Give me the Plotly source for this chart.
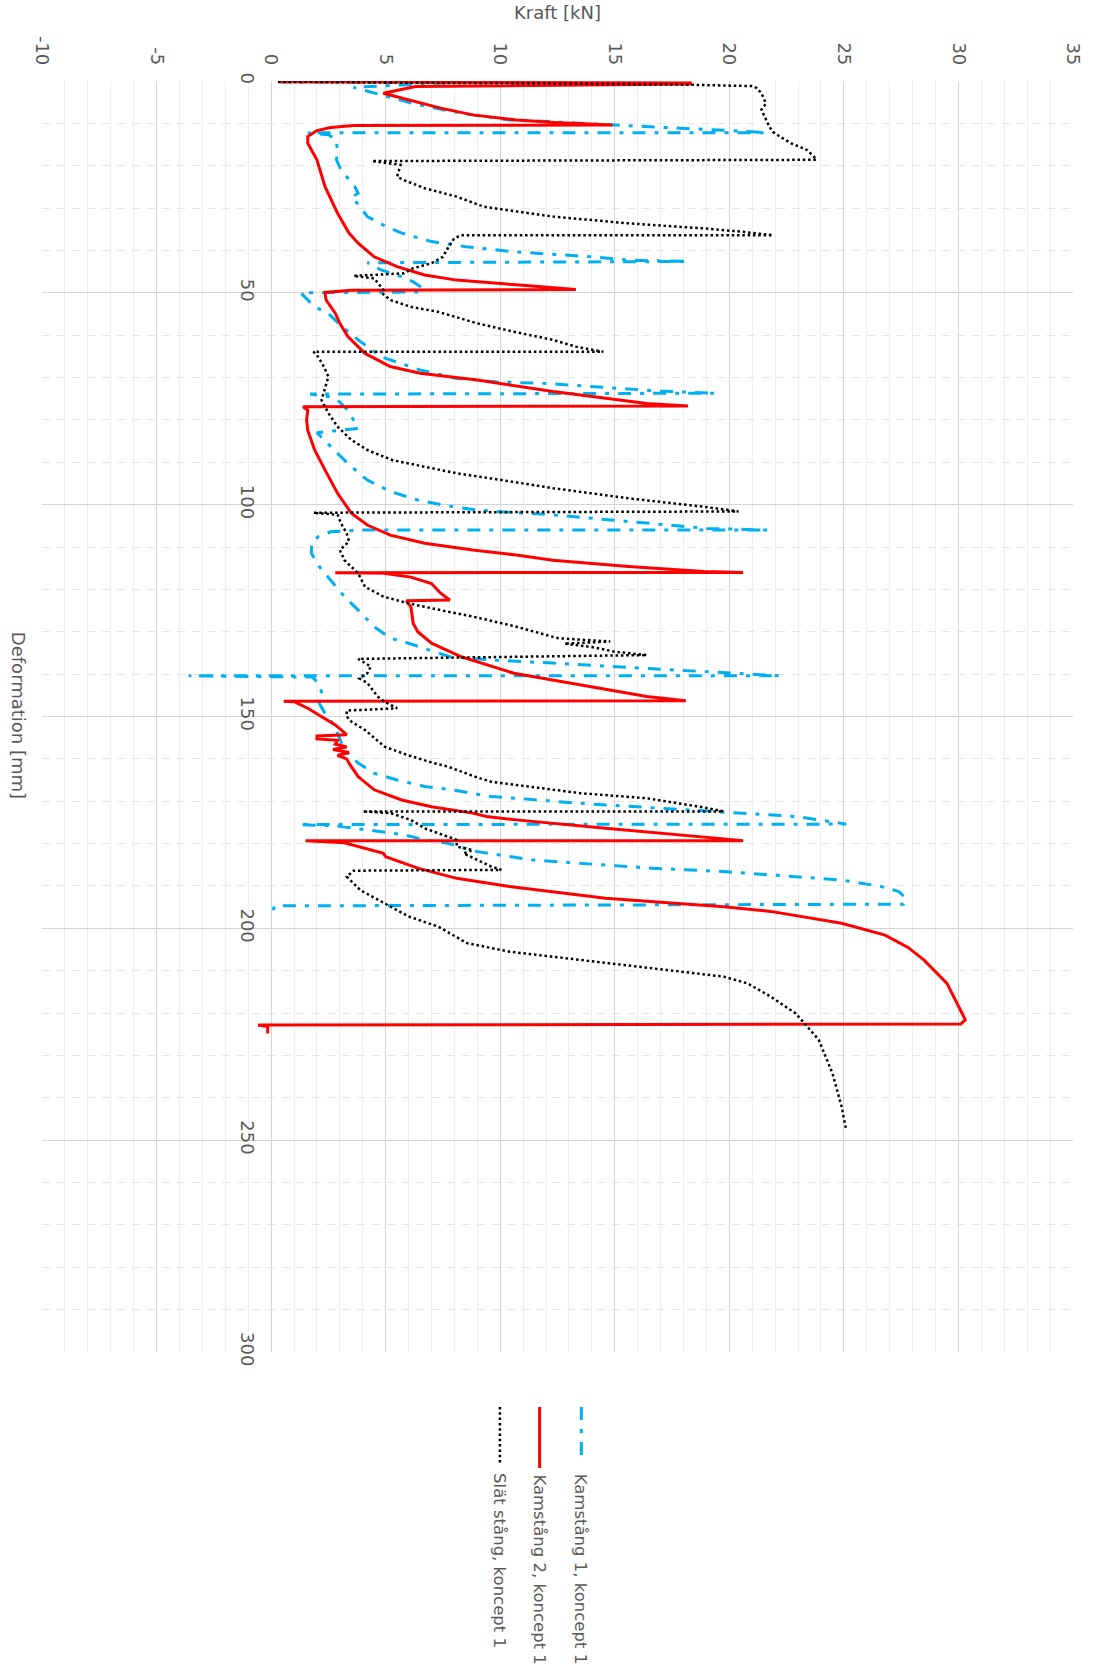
import plotly.graph_objects as go

# Kamstång 1, koncept 1 (dash-dot blue): deformation [mm] / force [kN]
k1_def = [0.2, 0.4, 1.5, 2.9, 3.3, 5.3, 6.8, 8.0, 9.2, 9.6, 10.4, 11.0, 11.5, 11.9, 12.2,
          12.2, 12.7, 13.9, 17.1, 18.6, 21.0, 24.9, 26.5, 27.5, 28.1, 32.0, 34.0, 35.9, 37.9, 39.1, 40.3, 41.5, 42.3, 42.6,
          42.9, 44.6, 45.8, 47.4, 48.5, 49.8,
          50.0, 50.3, 53.3, 54.9, 58.0, 61.1, 65.1, 68.2, 70.2, 71.0, 71.4, 72.0, 72.6, 73.2, 73.7,
          73.9, 74.5, 75.3, 77.7, 82.0, 83.0, 84.7, 87.9, 91.0, 94.2, 96.9, 98.9, 100.1, 101.3, 102.4, 103.2, 104.0, 104.8, 105.6, 106.0,
          106.0, 106.4, 107.6, 109.1, 111.5, 114.6, 117.8, 121.7, 124.9, 128.8, 131.5, 132.7, 135.9, 136.7, 137.4, 138.2, 139.0, 139.4, 140.0, 140.4,
          140.4, 140.7, 141.8, 144.1, 146.9, 149.2, 152.4, 154.0, 157.9, 161.0, 163.4, 165.0, 166.5, 167.3, 168.9, 169.3, 170.5, 171.3, 172.1, 172.8, 173.6, 174.4, 175.4,
          175.5, 175.8, 177.9, 179.0, 179.9, 181.9, 183.9, 184.6, 185.8, 186.6, 187.4, 188.6, 190.1, 191.3, 192.9, 194.3,
          194.7, 196.4]
k1_force = [0.3, 7.8, 3.6, 4.6, 4.9, 6.2, 7.5, 8.8, 10.4, 12.3, 15.0, 17.5, 19.5, 20.8, 21.6,
            1.6, 2.5, 2.85, 2.9, 2.85, 3.05, 3.65, 3.8, 3.5, 3.65, 4.2, 4.9, 5.7, 7.0, 8.5, 10.6, 14.0, 15.6, 18.2,
            4.2, 4.8, 5.5, 6.2, 6.5, 6.6,
            1.3, 1.35, 1.9, 2.5, 3.1, 3.8, 4.8, 6.5, 8.1, 9.8, 12.0, 13.6, 15.0, 17.0, 19.4,
            1.7, 2.5, 2.9, 3.35, 3.8, 2.0, 2.3, 2.9, 3.5, 4.2, 5.2, 6.4, 7.5, 9.0, 12.3, 14.0, 15.7, 17.3, 19.0, 21.7,
            3.8, 2.6, 2.05, 1.76, 1.76, 2.1, 2.6, 3.2, 3.8, 4.5, 5.2, 6.0, 7.8, 9.8, 12.3, 14.8, 17.3, 18.9, 20.5, 22.2,
            -3.6, 1.8, 2.0, 2.2, 2.1, 2.35, 2.8, 2.9, 3.2, 3.8, 4.5, 5.5, 6.7, 7.9, 9.6, 10.7, 13.5, 16.0, 18.3, 20.8, 22.9, 23.9, 25.1,
            1.2, 2.8, 5.8, 6.6, 7.7, 9.0, 11.45, 13.5, 16.6, 19.75, 21.8, 24.9, 26.6, 27.4, 27.7, 27.6,
            0.15, 0.05]

# Kamstång 2, koncept 1 (solid red)
k2_def = [0.2, 0.5, 0.7, 1.3, 2.9, 4.5, 6.4, 8.0, 9.2, 9.8, 10.2, 10.4,
          10.5, 11.0, 11.7, 13.1, 14.7, 18.6, 24.9, 31.2, 35.9, 38.3, 41.5, 43.8, 45.8, 47.0, 48.1, 48.8, 49.2,
          49.4, 49.9, 51.7, 54.8, 57.2, 60.3, 64.3, 67.4, 69.0, 70.6, 73.3, 76.1, 76.7,
          76.9, 77.7, 80.0, 82.5, 84.0, 87.1, 91.8, 97.3, 102.0, 104.8, 107.2, 109.1, 110.7, 111.9, 113.1, 114.6, 115.8, 116.0,
          116.05, 116.2, 117.1, 118.6, 120.9, 122.5,
          122.7, 124.1, 128.0, 130.0, 132.7, 135.9, 139.8, 143.0, 145.3, 146.3,
          146.4, 146.5, 148.05, 150.0, 152.0, 154.3,
          154.6, 155.3, 155.6, 156.5, 157.2, 157.8, 158.5, 159.2, 160.0, 161.0, 164.2, 167.3, 169.7, 171.3, 172.8, 173.6, 174.4, 176.4, 178.3, 179.3,
          179.3, 179.8, 182.3, 183.1, 185.8, 187.0, 188.2, 190.1, 192.9, 194.9, 196.0, 198.8, 201.6, 204.5, 207.5, 213.0, 219.3, 221.6, 222.6,
          222.8, 223.2, 224.8]
k2_force = [0.3, 18.3, 18.3, 6.3, 4.9, 6.0, 7.4, 8.8, 10.7, 12.4, 14.0, 14.9,
            3.6, 2.6, 2.0, 1.6, 1.6, 2.0, 2.35, 2.9, 3.4, 3.8, 4.5, 5.5, 6.7, 8.1, 10.7, 12.2, 13.3,
            3.5, 2.35, 2.4, 2.8, 3.0, 3.35, 4.1, 5.2, 6.5, 9.0, 12.3, 16.4, 18.2,
            1.4, 1.6, 1.55, 1.6, 1.7, 1.9, 2.35, 2.9, 3.5, 4.2, 5.2, 6.7, 8.8, 10.7, 12.3, 15.6, 18.9, 20.6,
            2.8, 4.9, 6.1, 7.0, 7.4, 7.8,
            5.9, 6.1, 6.2, 6.4, 7.0, 8.3, 10.6, 13.9, 16.4, 18.1,
            0.55, 1.0, 1.6, 2.2, 2.8, 3.3,
            2.0, 2.0, 2.9, 2.8, 3.3, 2.7, 3.4, 2.9, 3.3, 3.4, 3.8, 4.5, 5.7, 7.0, 8.8, 9.4, 10.7, 14.6, 18.7, 20.6,
            1.5, 3.2, 4.9, 5.0, 6.4, 7.3, 8.1, 10.4, 14.6, 19.75, 21.8, 24.9, 26.8, 27.8, 28.5, 29.5, 30.1, 30.3, 30.1,
            -0.57, -0.15, -0.15]

# Slät stång, koncept 1 (dotted black)
sl_def = [0.2, 0.8, 1.2, 1.7, 2.9, 5.3, 6.8, 9.2, 10.8, 12.0, 13.1, 14.7, 16.3, 17.9, 18.6,
          18.9, 19.4, 19.8, 22.6, 23.4, 25.3, 27.3, 29.7, 32.0, 33.6, 34.8, 35.6, 36.4,
          36.4, 37.1, 39.1, 41.5, 43.0, 44.2, 45.4,
          46.0, 46.6, 49.3, 50.1, 51.7, 53.3, 54.5, 57.2, 59.2, 61.1, 62.7, 63.9,
          63.9, 65.1, 67.4, 69.8, 72.9, 75.3, 78.4, 81.6, 84.7, 87.1, 89.5, 91.0, 92.6, 93.8, 96.1, 98.5, 100.5, 101.6,
          101.9, 102.4, 104.4, 106.8, 108.7, 110.7, 113.1, 116.2, 119.4, 121.7, 123.3, 124.9, 126.4, 128.8, 131.5, 132.3, 132.8, 133.6, 134.7, 135.5,
          136.4, 138.2, 139.8, 141.0, 142.1, 145.3, 146.5, 148.05,
          148.6, 150.0, 151.2, 153.2, 157.1, 159.1, 161.0, 161.8, 164.2, 165.4, 167.3, 168.1, 169.3, 171.3, 172.4,
          172.4, 172.8, 174.4, 176.4, 178.3, 179.1, 180.7, 181.5, 182.3, 185.4, 186.2,
          186.4, 187.8, 191.0, 194.1, 197.2, 199.6, 202.0, 203.5, 205.5, 207.5, 209.4, 211.4, 213.0, 216.1, 220.1, 226.3, 234.2, 242.1, 247.6]
sl_force = [0.3, 17.5, 21.0, 21.2, 21.4, 21.6, 21.4, 21.6, 21.75, 21.9, 22.2, 22.7, 23.4, 23.7, 23.8,
            4.4, 5.2, 5.65, 5.5, 5.8, 6.7, 8.1, 9.3, 12.3, 15.6, 18.9, 20.6, 21.9,
            8.3, 8.0, 7.75, 7.5, 7.0, 6.2, 5.8,
            3.6, 4.5, 4.9, 4.85, 5.2, 6.1, 7.3, 9.0, 10.6, 12.3, 13.3, 14.5,
            1.85, 2.05, 2.3, 2.5, 2.35, 2.2, 2.5, 2.9, 3.5, 4.2, 5.3, 6.7, 8.1, 9.6, 12.3, 15.6, 18.9, 20.4,
            1.85, 2.9, 3.05, 3.3, 3.4, 3.0, 3.2, 3.8, 4.1, 4.9, 6.0, 7.4, 8.8, 10.7, 12.5, 14.8, 12.8, 14.0, 15.0, 16.4,
            3.8, 4.35, 4.2, 3.85, 4.2, 4.65, 4.95, 5.5,
            3.3, 3.3, 3.5, 4.1, 4.95, 5.95, 7.1, 7.7, 8.9, 9.6, 12.3, 13.5, 16.4, 18.7, 19.75,
            4.0, 5.2, 6.1, 6.7, 7.7, 8.1, 8.1, 8.8, 8.4, 9.6, 10.05,
            3.6, 3.3, 3.9, 4.95, 6.0, 7.3, 8.1, 8.55, 10.4, 13.5, 16.6, 19.75, 20.8, 21.8, 22.9, 23.9, 24.5, 24.9, 25.1]

# Axis ticks
force_ticks = [-10, -5, 0, 5, 10, 15, 20, 25, 30, 35]
def_ticks = [0, 50, 100, 150, 200, 250, 300]

series_names = ["Kamstång 1, koncept 1", "Kamstång 2, koncept 1", "Slät stång, koncept 1"]
series_colors = ["#00B0F0", "#FF0000", "#000000"]
series_dash = ["13px,9px,4px,9px", "solid", "2.5px,2.8px"]
series_width = [3, 3, 2.5]

TEXT = "#595959"
FONT = "DejaVu Sans"

# Plot-area geometry (pixels) used for paper-coordinate placement
W, H = 1096, 1673
L, R, T, B = 42, 16, 81, 321
PW, PH = W - L - R, H - T - B


def px(X):
    return (X - L) / PW


def py(Y):
    return (H - B - Y) / PH


fig = go.Figure()
for name, d, f, c, dash, w in zip(series_names, [k1_def, k2_def, sl_def], [k1_force, k2_force, sl_force],
                                  series_colors, series_dash, series_width):
    fig.add_trace(go.Scatter(x=f, y=d, mode="lines", name=name,
                             line=dict(color=c, width=w, dash=dash), showlegend=False))

# empty trace that carries the deformation tick axis sitting on the 0 kN line
fig.add_trace(go.Scatter(x=[], y=[], xaxis="x", yaxis="y2", showlegend=False, hoverinfo="skip"))

fig.update_layout(
    width=W, height=H,
    margin=dict(l=L, r=R, t=T, b=B),
    paper_bgcolor="white", plot_bgcolor="white",
    font=dict(family=FONT, color=TEXT),
    xaxis=dict(range=[-10, 35], side="top", tickmode="array", tickvals=force_ticks,
               ticktext=[str(v) for v in force_ticks], tickangle=90,
               tickfont=dict(size=18, color=TEXT, family=FONT), ticks="", ticklabelstandoff=12,
               showgrid=True, gridcolor="#d4d4d4", gridwidth=1, zeroline=False, showline=False,
               minor=dict(dtick=1, tick0=0, showgrid=True, gridcolor="#eeeeee", gridwidth=1)),
    yaxis=dict(range=[300, 0], tickmode="array", tickvals=def_ticks, showticklabels=False,
               showgrid=True, gridcolor="#d4d4d4", gridwidth=1, zeroline=False, showline=False, ticks="",
               minor=dict(dtick=10, tick0=0, showgrid=True, gridcolor="#e6e6e6", gridwidth=1, griddash="8px,7px")),
    yaxis2=dict(range=[300, 0], overlaying="y", anchor="free", position=10 / 45, side="left",
                tickmode="array", tickvals=def_ticks, ticktext=[str(v) for v in def_ticks], tickangle=90,
                tickfont=dict(size=18, color=TEXT, family=FONT), ticks="", ticklabelstandoff=12,
                showgrid=False, zeroline=False, showline=False),
)

annotations = [
    dict(text="Deformation [mm]", x=px(19), y=py(715), xref="paper", yref="paper", textangle=90,
         showarrow=False, xanchor="center", yanchor="middle", font=dict(size=18, color=TEXT, family=FONT)),
    dict(text="Kraft [kN]", x=px(561), y=py(12), xref="paper", yref="paper",
         showarrow=False, xanchor="center", yanchor="middle", font=dict(size=18, color=TEXT, family=FONT)),
]

# Legend, drawn rotated below the plot
leg_x = [585, 543, 503]
leg_sym_end = [1458, 1468, 1465]
leg_text_mid = [1569, 1569, 1561]
shapes = []
for name, c, dash, w, X, ye, ym in zip(series_names, series_colors, series_dash, series_width,
                                        leg_x, leg_sym_end, leg_text_mid):
    shapes.append(dict(type="line", xref="paper", yref="paper", x0=px(X), x1=px(X), y0=py(1407), y1=py(ye),
                       line=dict(color=c, width=w, dash=dash)))
    annotations.append(dict(text=name, x=px(X), y=py(ym), xref="paper", yref="paper", textangle=90,
                            showarrow=False, xanchor="center", yanchor="middle",
                            font=dict(size=16.5, color=TEXT, family=FONT)))

fig.update_layout(annotations=annotations, shapes=shapes)

fig.write_html("out.html")
